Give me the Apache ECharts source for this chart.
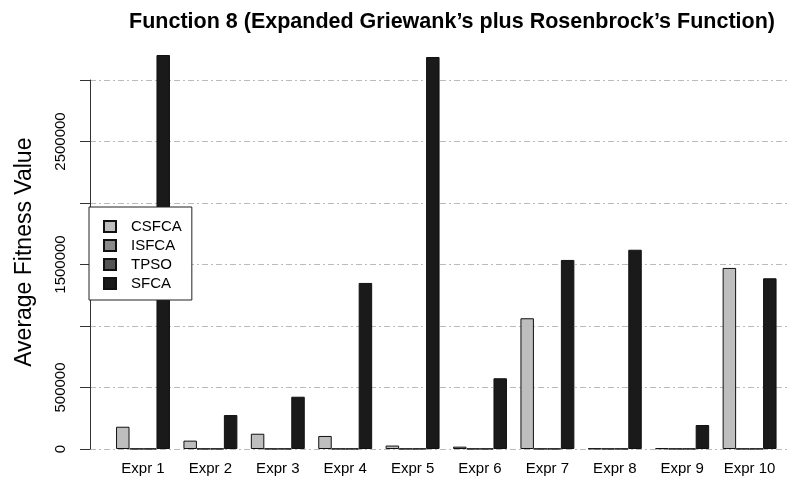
<!DOCTYPE html>
<html>
<head>
<meta charset="utf-8">
<script src="https://cdn.jsdelivr.net/npm/echarts@6/dist/echarts.min.js"></script>
<style>
  html, body { margin: 0; padding: 0; background: #fff; }
  #chart { width: 794px; height: 497px; }
</style>
</head>
<body>
<div id="chart"></div>
<script>
// 数据
var categories = ['Expr 1', 'Expr 2', 'Expr 3', 'Expr 4', 'Expr 5', 'Expr 6', 'Expr 7', 'Expr 8', 'Expr 9', 'Expr 10'];
var csfca = [181000, 68000, 124000, 106000, 28000, 19000, 1063000, 4000, 6000, 1472000];
var isfca = [2000, 2000, 2000, 2000, 2000, 2000, 2000, 2000, 2000, 2000];
var tpso  = [2000, 2000, 2000, 2000, 2000, 2000, 2000, 2000, 2000, 2000];
var sfca  = [3203000, 276000, 425000, 1350000, 3187000, 575000, 1537000, 1620000, 195000, 1388000];
var yTicksShown = [0, 500000, 1500000, 2500000];

var font = '"Liberation Sans", Arial, Helvetica, sans-serif';
var chart = echarts.init(document.getElementById('chart'));

function barSeries(name, data, color) {
    return {
        name: name,
        type: 'bar',
        xAxisIndex: 1,
        yAxisIndex: 1,
        data: data,
        barGap: 0,
        barCategoryGap: '20%',
        itemStyle: { color: color, borderColor: '#111', borderWidth: 1 }
    };
}

chart.setOption({
    animation: false,
    backgroundColor: '#fff',
    title: {
        text: 'Function 8 (Expanded Griewank\u2019s plus Rosenbrock\u2019s Function)',
        left: 447,
        textAlign: 'center',
        top: 6,
        textStyle: { fontFamily: font, fontSize: 21.5, fontWeight: 'bold', color: '#000' }
    },
    legend: {
        orient: 'vertical',
        left: 89,
        top: 207,
        padding: [12, 10, 9, 14],
        itemWidth: 12,
        itemHeight: 11,
        itemGap: 4,
        backgroundColor: '#fff',
        borderColor: '#222',
        borderWidth: 1,
        borderRadius: 0,
        icon: 'rect',
        textStyle: { fontFamily: font, fontSize: 15, color: '#000', lineHeight: 15, padding: [0, 0, 0, 10] },
        data: ['CSFCA', 'ISFCA', 'TPSO', 'SFCA']
    },
    grid: [
        // 坐标轴和网格线
        { left: 90, right: 4, top: 80, bottom: 48 },
        // 柱子
        { left: 109.3, right: 10.7, top: 55.4, bottom: 48 }
    ],
    xAxis: [
        { type: 'value', gridIndex: 0, show: false, min: 0, max: 1 },
        {
            type: 'category',
            gridIndex: 1,
            data: categories,
            axisLine: { show: false },
            axisTick: { show: false },
            axisLabel: { margin: 12, fontFamily: font, fontSize: 15, color: '#000' }
        }
    ],
    yAxis: [
        {
            type: 'value',
            gridIndex: 0,
            min: 0,
            max: 3000000,
            interval: 500000,
            axisLine: { show: true, lineStyle: { color: '#333', width: 1 } },
            axisTick: { show: true, length: 10, lineStyle: { color: '#333' } },
            axisLabel: {
                rotate: 90,
                margin: 22,
                fontFamily: font,
                fontSize: 15,
                color: '#000',
                formatter: function (v) { return yTicksShown.indexOf(v) >= 0 ? String(v) : ''; }
            },
            splitLine: { show: true, lineStyle: { color: '#bbb', width: 1, type: [6, 3, 2, 3] } }
        },
        {
            type: 'value',
            gridIndex: 1,
            min: 0,
            max: 3200000,
            offset: 19,
            name: 'Average Fitness Value',
            nameLocation: 'middle',
            nameGap: 54,
            nameTextStyle: { fontFamily: font, fontSize: 23, color: '#000' },
            axisLine: { show: false },
            axisTick: { show: false },
            axisLabel: { show: false },
            splitLine: { show: false }
        }
    ],
    series: [
        barSeries('CSFCA', csfca, '#bebebe'),
        barSeries('ISFCA', isfca, '#8a8a8a'),
        barSeries('TPSO', tpso, '#555555'),
        barSeries('SFCA', sfca, '#1a1a1a')
    ]
});
</script>
</body>
</html>
